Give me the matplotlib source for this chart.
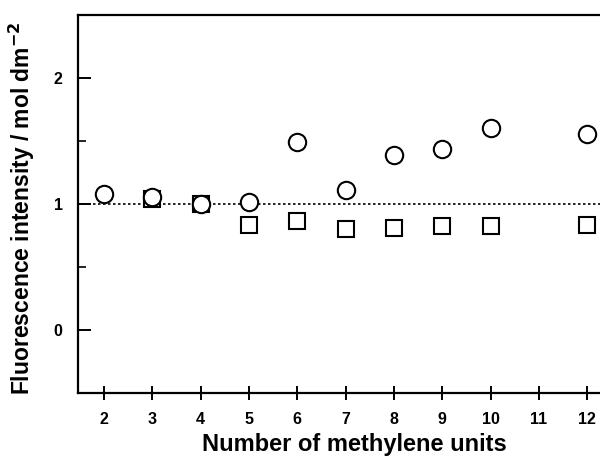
import matplotlib.pyplot as plt
from matplotlib.ticker import MultipleLocator

plt.rcParams['font.family'] = ['Liberation Sans', 'DejaVu Sans']
plt.rcParams['font.weight'] = 'bold'

# fluorescence intensity against spacer length
n_circle = [2, 3, 4, 5, 6, 7, 8, 9, 10, 12]
intensity_circle = [1.08, 1.055, 1.0, 1.015, 1.49, 1.11, 1.39, 1.44, 1.60, 1.555]

n_square = [3, 4, 5, 6, 7, 8, 9, 10, 12]
intensity_square = [1.04, 1.0, 0.83, 0.865, 0.80, 0.81, 0.825, 0.825, 0.83]

x_ticks = [2, 3, 4, 5, 6, 7, 8, 9, 10, 11, 12]
y_ticks = [0, 1, 2]

fig = plt.figure(figsize=(6, 4.57), dpi=100)
ax = fig.add_axes([0.13, 0.14, 0.885, 0.827])

ax.axhline(1.0, color='black', linewidth=1.2, linestyle=(0, (1.5, 1.5)),
           zorder=1)

ax.plot(n_circle, intensity_circle, linestyle='none', marker='o',
        markersize=12.5, markerfacecolor='white', markeredgecolor='black',
        markeredgewidth=1.5, zorder=3)
ax.plot(n_square, intensity_square, linestyle='none', marker='s',
        markersize=12, markerfacecolor='white', markeredgecolor='black',
        markeredgewidth=1.5, zorder=2)

ax.set_xlim(1.46, 12.45)
ax.set_ylim(-0.5, 2.5)

ax.set_xticks(x_ticks)
ax.set_yticks(y_ticks)
ax.yaxis.set_minor_locator(MultipleLocator(0.5))

ax.tick_params(axis='x', direction='inout', length=10, width=1.4,
               labelsize=11.5, pad=9)
ax.tick_params(axis='y', which='major', direction='in', length=9,
               width=1.4, labelsize=11.5, pad=11)
ax.tick_params(axis='y', which='minor', direction='in', length=5.5,
               width=1.2)

for label in ax.get_xticklabels() + ax.get_yticklabels():
    label.set_fontweight('bold')

for side in ['left', 'bottom', 'top']:
    ax.spines[side].set_linewidth(1.6)
ax.spines['right'].set_visible(False)

ax.set_xlabel('Number of methylene units', fontsize=17, fontweight='bold')
ax.xaxis.set_label_coords(0.52, -0.105)
ax.set_ylabel('Fluorescence intensity / mol dm$^{\\mathbf{-2}}$',
              fontsize=16.5, fontweight='bold')
ax.yaxis.set_label_coords(-0.078, 0.49)

fig.savefig('out.png', dpi=100)
